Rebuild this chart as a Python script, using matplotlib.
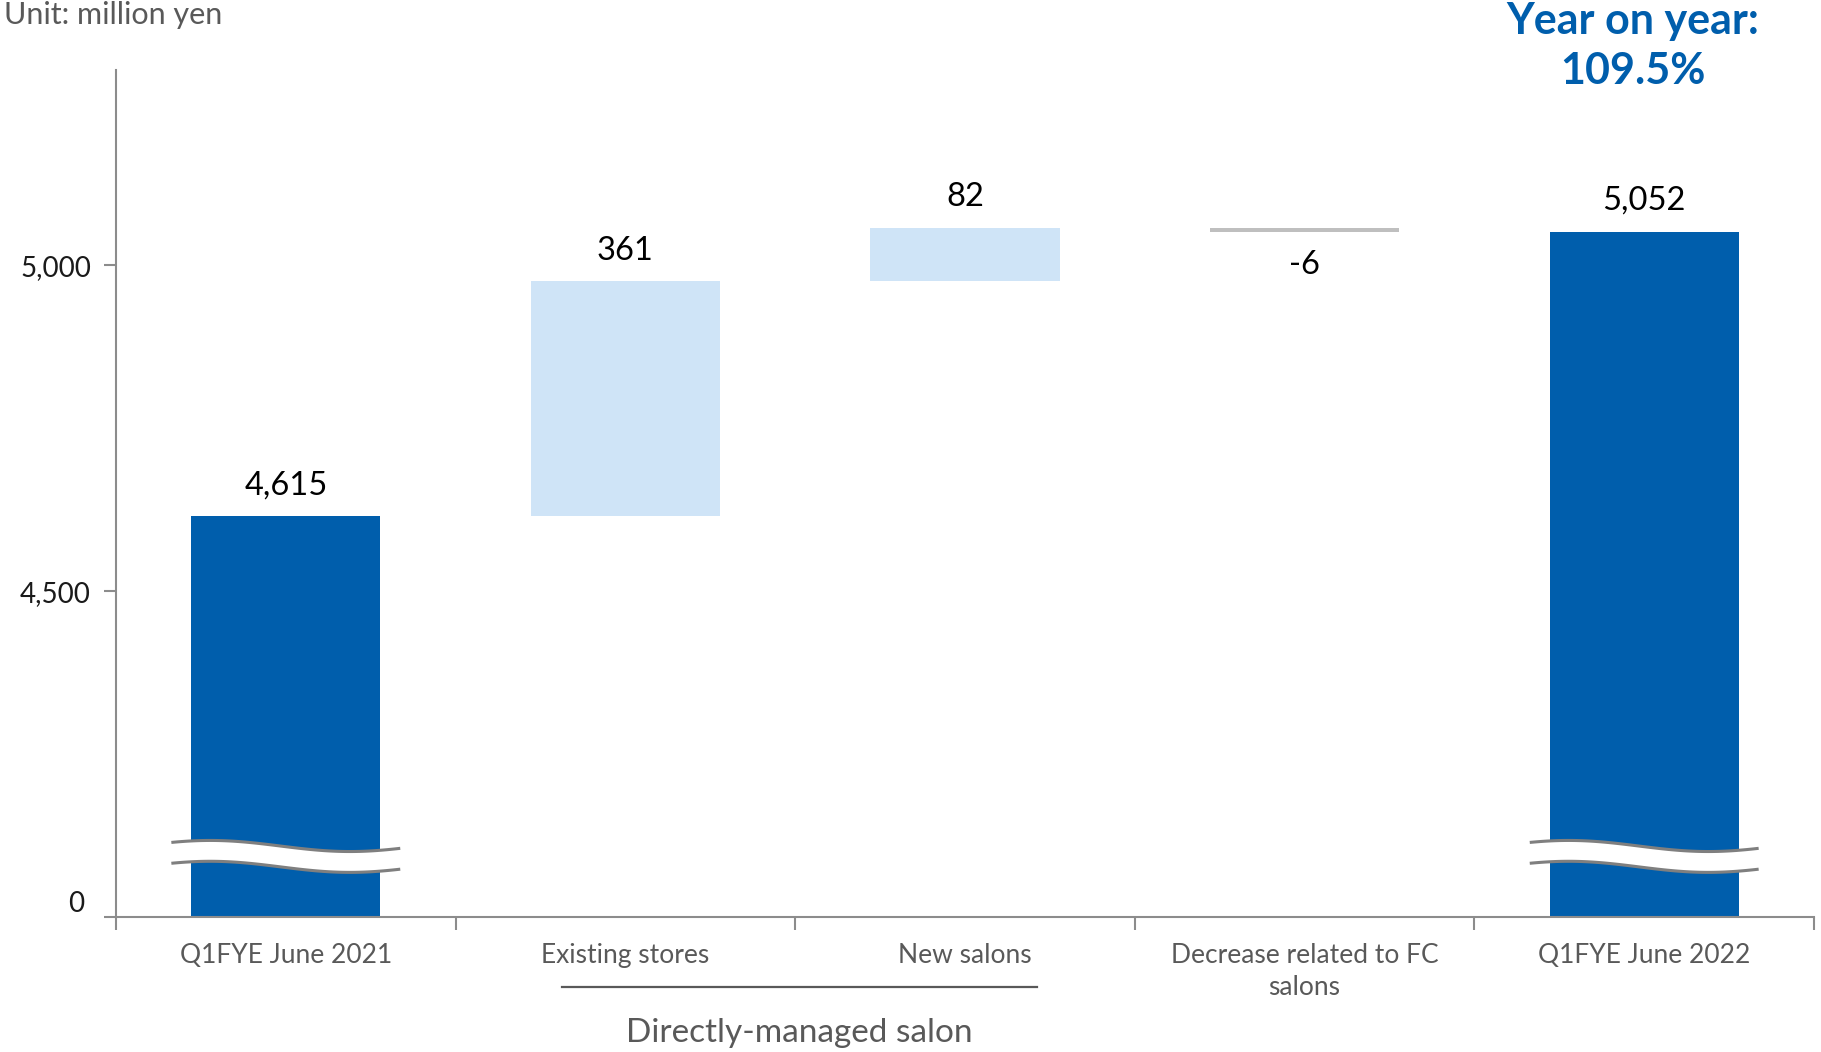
import numpy as np
import matplotlib.pyplot as plt
from matplotlib.transforms import ScaledTranslation

plt.rcParams['font.family'] = ['Lato', 'DejaVu Sans']

categories = ['Q1FYE June 2021', 'Existing stores', 'New salons',
              'Decrease related to FC\nsalons', 'Q1FYE June 2022']
values = [4615, 361, 82, -6, 5052]
kinds = ['total', 'delta', 'delta', 'delta', 'total']
value_labels = ['4,615', '361', '82', '-6', '5,052']
ytick_values = [4000, 4500, 5000]
ytick_labels = ['0', '4,500', '5,000']
yoy_text = 'Year on year:\n109.5%'
unit_text = 'Unit: million yen'
group_label = 'Directly-managed salon'
axis_floor = 4000  # broken axis: this value sits on the baseline and is labelled 0

DARK = '#005EAC'
LIGHT = '#CFE4F7'
NEG = '#BFBFBF'
AXIS = '#8C8C8C'
TEXT = '#595959'

fig = plt.figure(figsize=(18.21, 10.52), dpi=100)
ax = fig.add_axes([116 / 1821, 135 / 1052, (1814 - 116) / 1821, (917 - 70) / 1052])

x = np.arange(len(values))
bottoms, heights, colors = [], [], []
running = 0
for v, k in zip(values, kinds):
    if k == 'total':
        bottoms.append(0)
        heights.append(v)
        colors.append(DARK)
        running = v
    else:
        bottoms.append(running if v >= 0 else running + v)
        heights.append(abs(v))
        colors.append(LIGHT if v >= 0 else NEG)
        running += v

ax.bar(x, heights, bottom=bottoms, width=0.557, color=colors, zorder=2)

# value labels
for xi, b, h, v, lab in zip(x, bottoms, heights, values, value_labels):
    if v >= 0:
        ax.annotate(lab, (xi, b + h), xytext=(0, 22), textcoords='offset points',
                    ha='center', va='center', fontsize=23.5, color='black')
    else:
        ax.annotate(lab, (xi, b), xytext=(0, -24), textcoords='offset points',
                    ha='center', va='center', fontsize=23.5, color='black')


# wavy break marks on the total bars
def draw_break(xc, yc):
    t = np.linspace(0, 1, 120)
    xs = xc - 0.337 + 0.674 * t
    wave = 8.5 * np.cos(2 * np.pi * (t - 0.17) / 1.22)
    upper = yc + 16 + wave
    lower = yc - 16 + wave
    ax.fill_between(xs, lower, upper, color='white', lw=0, zorder=3)
    ax.plot(xs, upper, color='#7F7F7F', lw=2.2, zorder=4, solid_capstyle='butt')
    ax.plot(xs, lower, color='#7F7F7F', lw=2.2, zorder=4, solid_capstyle='butt')


for xi, k in zip(x, kinds):
    if k == 'total':
        draw_break(xi, 4093)

ax.set_xlim(-0.5, len(values) - 0.5)
ax.set_ylim(axis_floor, 5300)

for s in ['top', 'right']:
    ax.spines[s].set_visible(False)
for s in ['left', 'bottom']:
    ax.spines[s].set_color(AXIS)
    ax.spines[s].set_linewidth(1.5)

ax.set_yticks(ytick_values, ytick_labels)
ax.tick_params(axis='y', direction='out', length=9, width=1.5, color=AXIS,
               labelsize=20, labelcolor='#1A1A1A', pad=9)
zero_lbl = ax.get_yticklabels()[0]
zero_lbl.set_transform(zero_lbl.get_transform() + ScaledTranslation(-0.07, 0.16, fig.dpi_scale_trans))

ax.set_xticks(x, categories)
ax.set_xticks(np.arange(len(values) + 1) - 0.5, minor=True)
ax.tick_params(axis='x', which='major', length=0, labelsize=19, labelcolor=TEXT, pad=19)
ax.tick_params(axis='x', which='minor', direction='out', length=9, width=1.5, color=AXIS)
for lbl in ax.get_xticklabels():
    lbl.set_linespacing(1.35)
    lbl.set_verticalalignment('top')

# group bracket under the directly-managed salon categories
tr = ax.get_xaxis_transform()
ax.plot([0.813, 2.212], [-0.0826, -0.0826], transform=tr, color=TEXT, lw=1.6, clip_on=False)
ax.text(1.511, -0.137, group_label, transform=tr, ha='center', va='center',
        fontsize=24, color=TEXT)

fig.text(4 / 1821, 1 - 1 / 1052, unit_text, ha='left', va='top', fontsize=22, color=TEXT)
fig.text(1633 / 1821, 1 - 46 / 1052, yoy_text, ha='center', va='center', fontsize=31,
         fontweight='bold', color=DARK, linespacing=1.3)

fig.savefig('out.png', dpi=100)
